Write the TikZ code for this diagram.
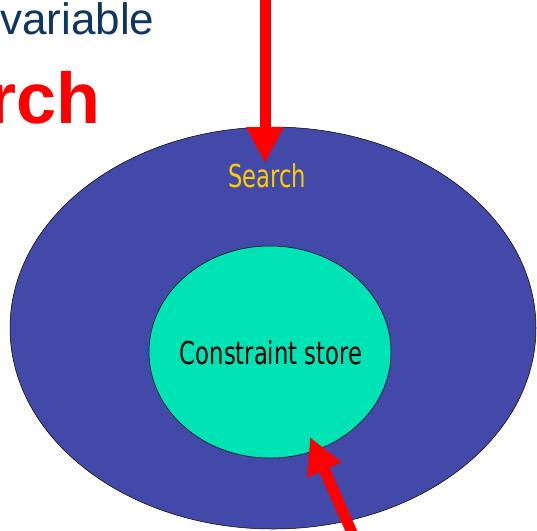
\documentclass[tikz,border=0pt]{standalone}
\usepackage{fontspec}
\setmainfont{Liberation Sans}
\newfontfamily\lblfont[FakeStretch=0.72]{DejaVu Sans}
\usetikzlibrary{shapes.geometric,arrows.meta}
\definecolor{outerblue}{RGB}{67,73,168}
\definecolor{innerteal}{RGB}{0,227,180}
\definecolor{labelgold}{RGB}{255,204,0}
\definecolor{navytext}{RGB}{13,54,100}
\definecolor{arrowred}{RGB}{255,0,0}
\tikzset{
  region/.style={ellipse, draw=black, line width=0.5pt, inner sep=0pt},
  lbl/.style={inner sep=0pt, font=\lblfont\fontsize{31.5}{36}\selectfont},
  bigarrow/.style={arrowred, line width=11pt,
    -{Triangle[width=35pt,length=36pt]}}
}
\begin{document}
\begin{tikzpicture}[x=1pt,y=-1pt]
  \useasboundingbox (0,0) rectangle (537,530);
  % heading fragments
  \node[anchor=base west, inner sep=0pt, text=navytext,
        font=\fontsize{44}{50}\selectfont] (varword) at (0,34) {variable};
  \node[anchor=base east, inner sep=0pt, text=arrowred,
        font=\bfseries\fontsize{72}{80}\selectfont] (rchword) at (101,123) {rch};
  % nested regions
  \node[region, fill=outerblue, minimum width=526pt, minimum height=402pt]
        (searchregion) at (273,328) {};
  \node[region, fill=innerteal, minimum width=242pt, minimum height=212pt]
        (storeregion) at (270,352) {};
  % labels
  \node[lbl, text=labelgold, anchor=base] (search) at (267,187) {Search};
  \node[lbl, text=black, anchor=base] (store) at (271,364) {Constraint store};
  % arrows
  \coordinate (topin) at (265,-4);
  \coordinate (tiptop) at (265,163);
  \coordinate (botin) at (353,535);
  \coordinate (tipbot) at (310,437);
  \draw[bigarrow] (topin) -- (tiptop);
  \draw[bigarrow] (botin) -- (tipbot);
\end{tikzpicture}
\end{document}
